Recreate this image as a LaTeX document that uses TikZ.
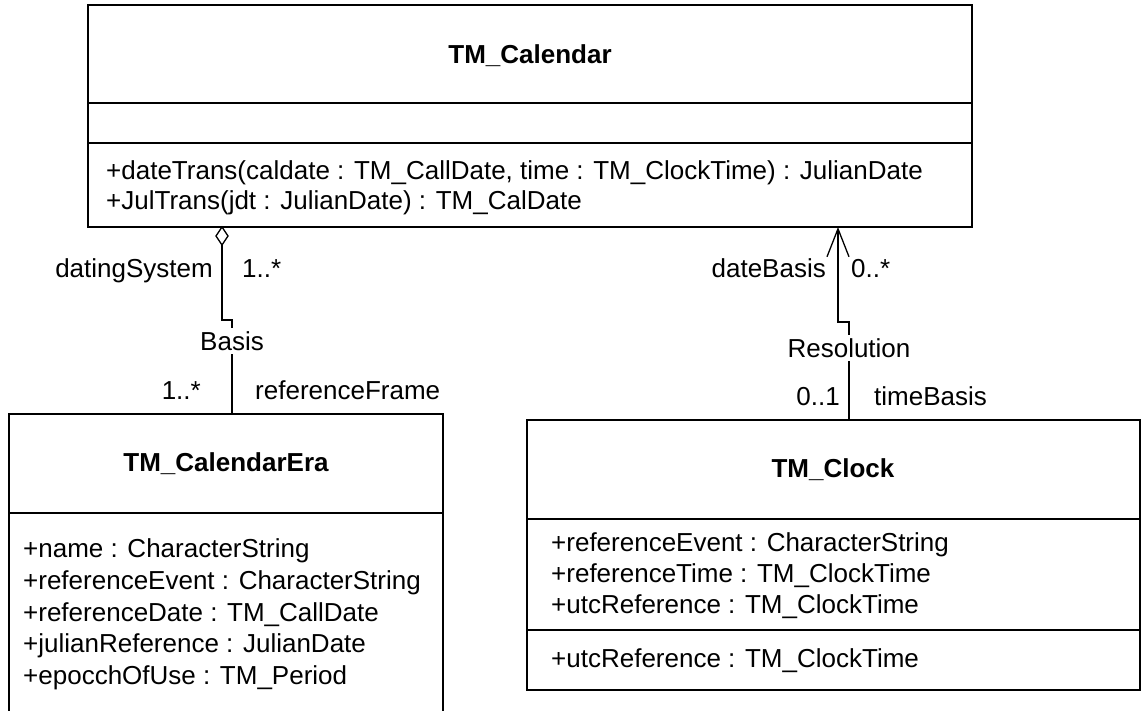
\documentclass[tikz,border=0pt]{standalone}
\usepackage{fontspec}
\setmainfont{Liberation Sans}
\usetikzlibrary{arrows.meta}
\begin{document}
\begin{tikzpicture}[x=1pt,y=-1pt,
  box/.style={draw, line width=1.3pt, anchor=north west, inner sep=0pt, outer sep=0pt},
  txt/.style={inner sep=0pt, text height=18.6pt, text depth=0pt, font=\fontsize{26}{31}\selectfont},
  ttl/.style={txt, font=\fontsize{26}{31}\selectfont\bfseries},
  mid/.style={txt, outer sep=4pt},
  conn/.style={line width=1.3pt},
  divider/.style={line width=1.3pt}]
\useasboundingbox (0,0) rectangle (1144,710);
\clip (0,0) rectangle (1144,710);
% class boxes
\node[box, minimum width=884pt, minimum height=222pt] (cal) at (88,5) {};
\node[box, minimum width=434pt, minimum height=330pt] (era) at (9,414) {};
\node[box, minimum width=613pt, minimum height=270pt] (clock) at (527,420) {};
% dividers
\draw[divider] ([yshift=-98pt]cal.north west) -- ([yshift=-98pt]cal.north east);
\draw[divider] ([yshift=-138pt]cal.north west) -- ([yshift=-138pt]cal.north east);
\draw[divider] ([yshift=-99pt]era.north west) -- ([yshift=-99pt]era.north east);
\draw[divider] ([yshift=-99pt]clock.north west) -- ([yshift=-99pt]clock.north east);
\draw[divider] ([yshift=-210pt]clock.north west) -- ([yshift=-210pt]clock.north east);
% TM_Calendar texts
\node[ttl] (calname) at (530,54) {TM\_Calendar};
\node[txt, anchor=west] (op1) at (106,170) {+dateTrans(caldate : TM\_CallDate, time : TM\_ClockTime) : JulianDate};
\node[txt, anchor=west] (op2) at (106,200) {+JulTrans(jdt : JulianDate) : TM\_CalDate};
% TM_CalendarEra texts
\node[ttl] (eraname) at (226,462) {TM\_CalendarEra};
\node[txt, anchor=west] (ea1) at (23,548) {+name : CharacterString};
\node[txt, anchor=west] (ea2) at (23,580) {+referenceEvent : CharacterString};
\node[txt, anchor=west] (ea3) at (23,612) {+referenceDate : TM\_CallDate};
\node[txt, anchor=west] (ea4) at (23,643) {+julianReference : JulianDate};
\node[txt, anchor=west] (ea5) at (23,675) {+epocchOfUse : TM\_Period};
% TM_Clock texts
\node[ttl] (clockname) at (833,468) {TM\_Clock};
\node[txt, anchor=west] (ca1) at (551,542) {+referenceEvent : CharacterString};
\node[txt, anchor=west] (ca2) at (551,573) {+referenceTime : TM\_ClockTime};
\node[txt, anchor=west] (ca3) at (551,604) {+utcReference : TM\_ClockTime};
\node[txt, anchor=west] (co1) at (551,658) {+utcReference : TM\_ClockTime};
% association Basis (aggregation diamond)
\coordinate (aggtop) at (222,227);
\coordinate (aggbot) at (222,245);
\draw[conn, line join=miter, fill=white] (aggtop) -- ++(-6,9) -- (aggbot) -- ++(6,-9) -- cycle;
\node[mid] (basis) at (232,341) {Basis};
\draw[conn] (aggbot) -- ++(0,75) -| (basis.north);
\draw[conn] (basis.south) -- (basis.south |- era.north);
\node[txt, anchor=east] (ds) at (213,268) {datingSystem};
\node[txt, anchor=west] (m1) at (242,268) {1..*};
\node[txt, anchor=east] (m2) at (201,390) {1..*};
\node[txt, anchor=west] (rf) at (255,390) {referenceFrame};
% association Resolution
\coordinate (arrtop) at (838,227);
\node[mid] (res) at (849,348) {Resolution};
\draw[conn, {Straight Barb[length=28pt, width=22pt, line width=1.3pt]}-] (arrtop) -- ++(0,95) -| (res.north);
\draw[conn] (res.south) -- (res.south |- clock.north);
\node[txt, anchor=east] (db) at (826,268) {dateBasis};
\node[txt, anchor=west] (m3) at (851,268) {0..*};
\node[txt, anchor=east] (m4) at (840,396) {0..1};
\node[txt, anchor=west] (tb) at (874,396) {timeBasis};
\end{tikzpicture}
\end{document}
